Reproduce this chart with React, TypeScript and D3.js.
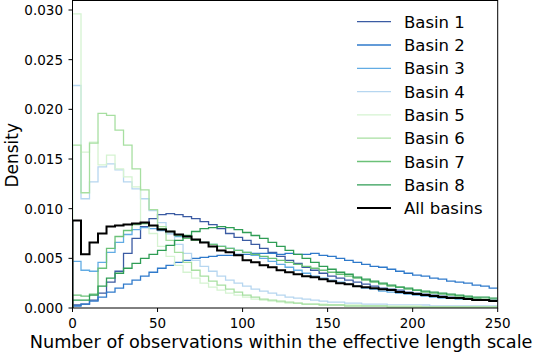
import React from "react";
import * as d3 from "d3";

const binEdges: number[] = d3.range(0, 255, 5); // 0..250
const xTicks = [0, 50, 100, 150, 200, 250];
const yTicks = [0, 0.005, 0.01, 0.015, 0.02, 0.025, 0.03];
const seriesNames = ["Basin 1", "Basin 2", "Basin 3", "Basin 4", "Basin 5", "Basin 6", "Basin 7", "Basin 8", "All basins"];
const seriesColors = ["#3b5ba3", "#2f7acb", "#62ace4", "#b6d6f0", "#d5f3d1", "#a7dfa1", "#6bc178", "#2f9d55", "#000000"];

const basin1 = [0.0003, 0.0004, 0.0008, 0.0015, 0.0026, 0.0037, 0.0055, 0.0070, 0.0082, 0.0090, 0.0094, 0.0095, 0.0094, 0.0092, 0.0090, 0.0087, 0.0084, 0.0080, 0.0075, 0.0071, 0.0068, 0.0064, 0.0060, 0.0056, 0.0052, 0.0048, 0.0045, 0.0041, 0.0038, 0.0035, 0.0032, 0.0030, 0.0028, 0.0026, 0.0024, 0.0022, 0.0020, 0.0019, 0.0018, 0.0016, 0.0015, 0.0014, 0.0013, 0.0012, 0.0011, 0.0010, 0.0010, 0.0009, 0.0008, 0.0008];
const basin2 = [0.0002, 0.0004, 0.0007, 0.0011, 0.0016, 0.0020, 0.0024, 0.0028, 0.0032, 0.0036, 0.0040, 0.0043, 0.0046, 0.0048, 0.0050, 0.0051, 0.0052, 0.0053, 0.0053, 0.0054, 0.0054, 0.0055, 0.0055, 0.0055, 0.0054, 0.0055, 0.0054, 0.0054, 0.0055, 0.0053, 0.0052, 0.0050, 0.0048, 0.0046, 0.0044, 0.0042, 0.0041, 0.0039, 0.0037, 0.0035, 0.0033, 0.0032, 0.0030, 0.0029, 0.0027, 0.0026, 0.0025, 0.0023, 0.0022, 0.0020];
const basin3 = [0.0047, 0.0038, 0.0037, 0.0046, 0.0056, 0.0066, 0.0074, 0.0079, 0.0081, 0.0080, 0.0078, 0.0075, 0.0072, 0.0070, 0.0068, 0.0066, 0.0064, 0.0062, 0.0060, 0.0058, 0.0056, 0.0053, 0.0050, 0.0047, 0.0044, 0.0041, 0.0038, 0.0035, 0.0032, 0.0030, 0.0028, 0.0026, 0.0024, 0.0022, 0.0020, 0.0019, 0.0017, 0.0016, 0.0015, 0.0014, 0.0013, 0.0012, 0.0011, 0.0010, 0.0010, 0.0009, 0.0009, 0.0008, 0.0008, 0.0007];
const basin4 = [0.0224, 0.0110, 0.0127, 0.0142, 0.0145, 0.0139, 0.0127, 0.0120, 0.0110, 0.0098, 0.0086, 0.0075, 0.0064, 0.0055, 0.0048, 0.0042, 0.0037, 0.0032, 0.0028, 0.0025, 0.0022, 0.0019, 0.0017, 0.0015, 0.0013, 0.0011, 0.0010, 0.0009, 0.0008, 0.0007, 0.0006, 0.0006, 0.0005, 0.0005, 0.0004, 0.0004, 0.0004, 0.0003, 0.0003, 0.0003, 0.0003, 0.0003, 0.0002, 0.0002, 0.0002, 0.0002, 0.0002, 0.0002, 0.0002, 0.0002];
const basin5 = [0.0296, 0.0157, 0.0167, 0.0144, 0.0154, 0.0140, 0.0132, 0.0122, 0.0085, 0.0075, 0.0062, 0.0052, 0.0043, 0.0036, 0.0030, 0.0025, 0.0021, 0.0018, 0.0015, 0.0013, 0.0011, 0.0009, 0.0008, 0.0007, 0.0006, 0.0005, 0.0005, 0.0004, 0.0004, 0.0004, 0.0003, 0.0003, 0.0003, 0.0003, 0.0002, 0.0002, 0.0002, 0.0002, 0.0002, 0.0002, 0.0002, 0.0001, 0.0001, 0.0001, 0.0001, 0.0001, 0.0001, 0.0001, 0.0001, 0.0001];
const basin6 = [0.0164, 0.0116, 0.0166, 0.0196, 0.0194, 0.0179, 0.0164, 0.0140, 0.0119, 0.0099, 0.0082, 0.0068, 0.0056, 0.0046, 0.0038, 0.0032, 0.0027, 0.0023, 0.0019, 0.0016, 0.0013, 0.0011, 0.0009, 0.0008, 0.0007, 0.0006, 0.0005, 0.0004, 0.0004, 0.0003, 0.0003, 0.0003, 0.0002, 0.0002, 0.0002, 0.0002, 0.0002, 0.0001, 0.0001, 0.0001, 0.0001, 0.0001, 0.0001, 0.0001, 0.0001, 0.0001, 0.0001, 0.0001, 0.0001, 0.0001];
const basin7 = [0.0013, 0.0012, 0.0014, 0.0040, 0.0060, 0.0072, 0.0078, 0.0084, 0.0085, 0.0083, 0.0080, 0.0077, 0.0073, 0.0070, 0.0068, 0.0066, 0.0064, 0.0062, 0.0060, 0.0058, 0.0056, 0.0054, 0.0052, 0.0050, 0.0048, 0.0046, 0.0044, 0.0042, 0.0040, 0.0038, 0.0036, 0.0034, 0.0032, 0.0030, 0.0028, 0.0026, 0.0024, 0.0022, 0.0021, 0.0019, 0.0018, 0.0016, 0.0015, 0.0014, 0.0013, 0.0012, 0.0011, 0.0010, 0.0009, 0.0008];
const basin8 = [0.0008, 0.0008, 0.0013, 0.0022, 0.0030, 0.0035, 0.0040, 0.0045, 0.0050, 0.0054, 0.0058, 0.0063, 0.0068, 0.0073, 0.0077, 0.0080, 0.0081, 0.0082, 0.0081, 0.0079, 0.0076, 0.0073, 0.0070, 0.0066, 0.0062, 0.0058, 0.0054, 0.0050, 0.0046, 0.0042, 0.0039, 0.0036, 0.0034, 0.0031, 0.0029, 0.0027, 0.0025, 0.0023, 0.0021, 0.0020, 0.0018, 0.0017, 0.0016, 0.0015, 0.0014, 0.0013, 0.0012, 0.0011, 0.0011, 0.0010];
const allBasins = [0.0088, 0.0054, 0.0066, 0.0075, 0.0082, 0.0083, 0.0084, 0.0085, 0.0086, 0.0083, 0.0079, 0.0077, 0.0074, 0.0072, 0.0069, 0.0066, 0.0062, 0.0058, 0.0056, 0.0053, 0.0048, 0.0046, 0.0043, 0.0041, 0.0038, 0.0036, 0.0034, 0.0032, 0.0031, 0.0029, 0.0027, 0.0025, 0.0024, 0.0022, 0.0021, 0.0020, 0.0019, 0.0018, 0.0016, 0.0015, 0.0014, 0.0013, 0.0012, 0.0011, 0.0010, 0.0010, 0.0009, 0.0008, 0.0008, 0.0007];

const seriesValues = [basin1, basin2, basin3, basin4, basin5, basin6, basin7, basin8, allBasins];

const W = 541, H = 355;
const M = { left: 72.5, right: 497.7, top: 0.5, bottom: 308 };
const FONT = "DejaVu Sans, sans-serif";

export default function App() {
  const x = d3.scaleLinear().domain([0, 250]).range([M.left, M.right]);
  const y = d3.scaleLinear().domain([0, 0.03]).range([M.bottom, 10]);
  const yTop = y.invert(M.top);
  const yScale = d3.scaleLinear().domain([0, yTop]).range([M.bottom, M.top]);

  const line = d3.line<[number, number]>()
    .x(d => x(d[0]))
    .y(d => yScale(d[1]))
    .curve(d3.curveStepAfter);

  const pathFor = (vals: number[]) => {
    const pts: [number, number][] = [[0, 0]];
    vals.forEach((v, i) => pts.push([binEdges[i], v]));
    pts.push([binEdges[vals.length], vals[vals.length - 1]]);
    return line(pts) as string;
  };

  return (
    <svg width={W} height={H} style={{ position: "absolute", left: 0, top: 0, background: "#fff" }} fontFamily={FONT}>
      <defs>
        <clipPath id="plotclip">
          <rect x={M.left} y={M.top} width={M.right - M.left} height={M.bottom - M.top} />
        </clipPath>
      </defs>
      <rect x={0} y={0} width={W} height={H} fill="#fff" />
      <g clipPath="url(#plotclip)">
        {seriesValues.map((vals, i) => (
          <path key={i} d={pathFor(vals)} fill="none" stroke={seriesColors[i]}
            strokeWidth={i === 8 ? 2 : 1.3} strokeLinejoin="miter" />
        ))}
      </g>
      <rect x={M.left} y={M.top} width={M.right - M.left} height={M.bottom - M.top} fill="none" stroke="#000" strokeWidth={1} />
      {xTicks.map(t => (
        <g key={t}>
          <line x1={x(t)} x2={x(t)} y1={M.bottom} y2={M.bottom + 4} stroke="#000" strokeWidth={1} />
          <text x={x(t)} y={328} fontSize={13.5} textAnchor="middle" fill="#000">{t}</text>
        </g>
      ))}
      {yTicks.map(t => (
        <g key={t}>
          <line x1={M.left - 4} x2={M.left} y1={yScale(t)} y2={yScale(t)} stroke="#000" strokeWidth={1} />
          <text x={63} y={yScale(t) + 5} fontSize={13.5} textAnchor="end" fill="#000">{d3.format(".3f")(t)}</text>
        </g>
      ))}
      <text x={(M.left + M.right) / 2 - 4} y={348} fontSize={17.7} textAnchor="middle" fill="#000">
        Number of observations within the effective length scale
      </text>
      <text transform={`translate(18,${(M.top + M.bottom) / 2 + 1}) rotate(-90)`} fontSize={17} textAnchor="middle" fill="#000">
        Density
      </text>
      {seriesNames.map((name, i) => {
        const ly = 21.7 + i * 23.3;
        return (
          <g key={name}>
            <line x1={357} x2={391} y1={ly} y2={ly} stroke={seriesColors[i]} strokeWidth={i === 8 ? 2 : 1.3} />
            <text x={404} y={ly + 6} fontSize={16.5} fill="#000">{name}</text>
          </g>
        );
      })}
    </svg>
  );
}
